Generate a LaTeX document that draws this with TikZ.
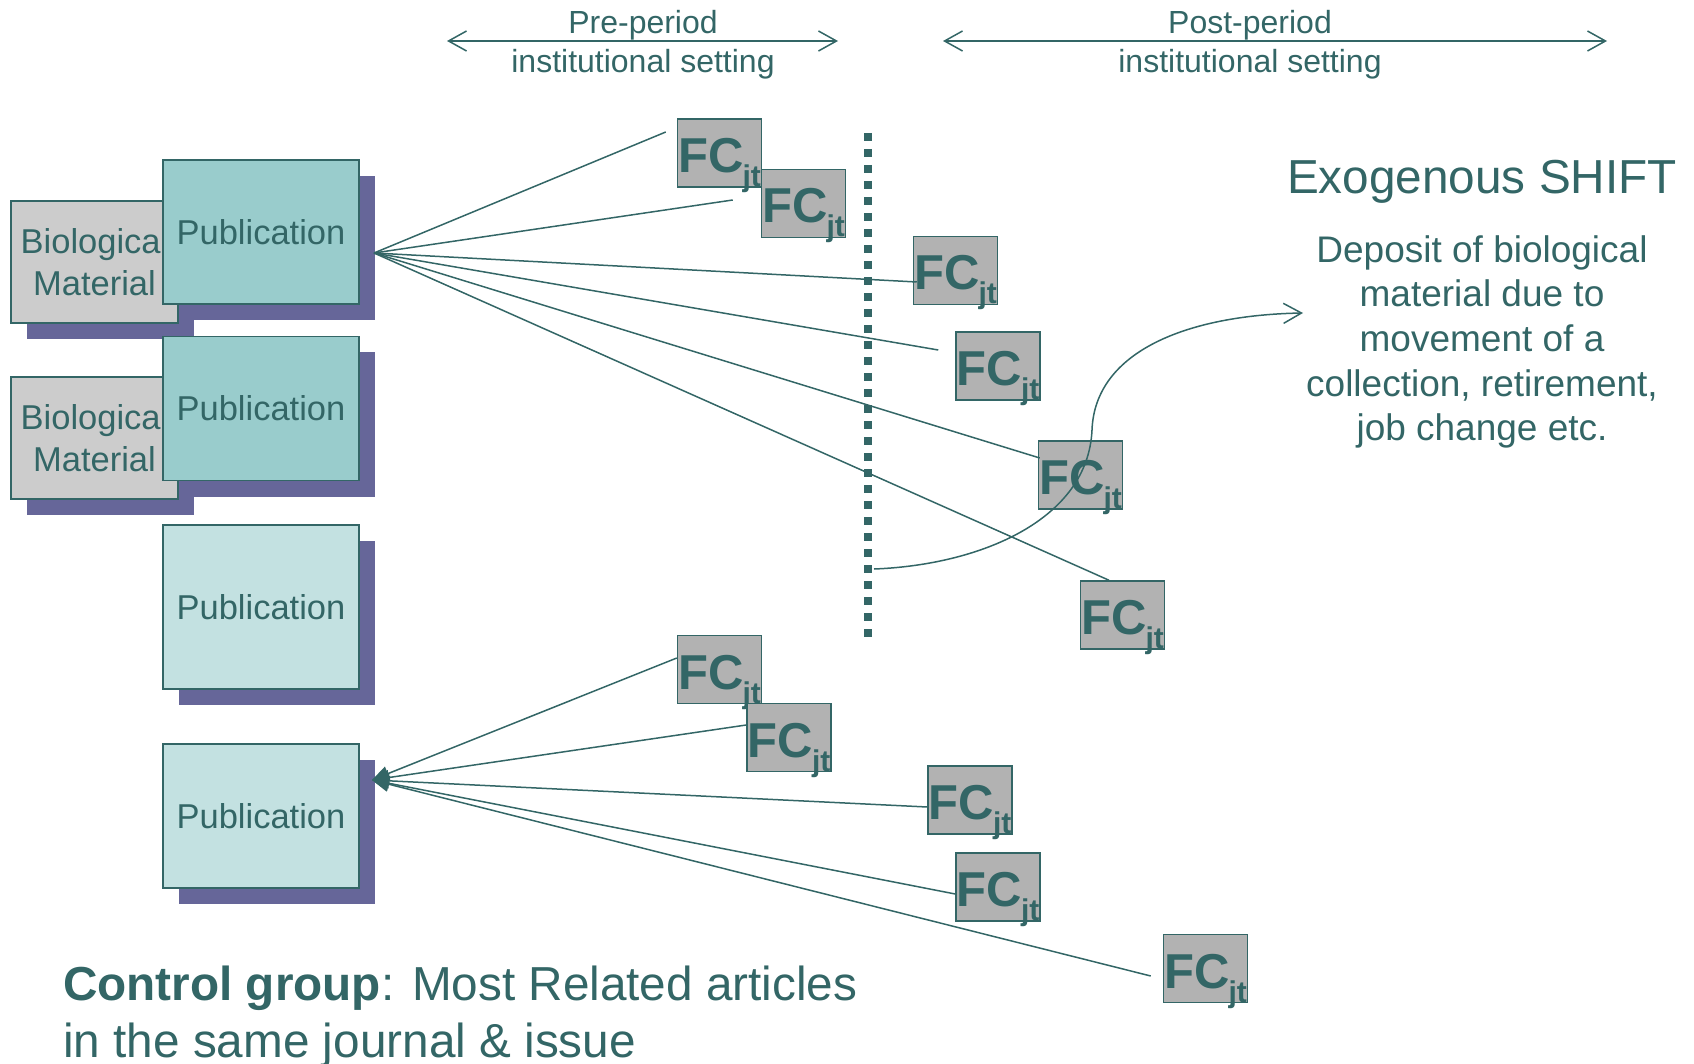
\documentclass[tikz,border=0pt]{standalone}
\usepackage{fontspec}
\setmainfont{Liberation Sans}
\usetikzlibrary{arrows.meta,calc,shadows}
\definecolor{tealdk}{HTML}{336666}
\definecolor{pubdark}{HTML}{99CCCC}
\definecolor{publight}{HTML}{C3E1E1}
\definecolor{biogray}{HTML}{CCCCCC}
\definecolor{fcgray}{HTML}{B2B2B2}
\definecolor{shadowc}{HTML}{666699}
\begin{document}
\begin{tikzpicture}[x=1pt,y=-1pt,
  boxshadow/.style={drop shadow={shadow xshift=16pt,shadow yshift=-16pt,fill=shadowc,opacity=1}},
  basebox/.style={draw=tealdk,line width=1.5pt,inner sep=0pt,text=tealdk,boxshadow,
    font=\fontsize{34.5}{42}\selectfont,align=center},
  biobox/.style={basebox,fill=biogray,minimum width=167pt,minimum height=122pt},
  pubbox/.style={basebox,fill=pubdark,minimum width=196pt,minimum height=144pt},
  publbox/.style={basebox,fill=publight,minimum width=196pt},
  fcbox/.style={draw=tealdk,line width=1.5pt,fill=fcgray,minimum width=84pt,minimum height=68pt,
    inner sep=0pt,text height=39pt,text depth=0pt,text=tealdk,font=\fontsize{49}{49}\selectfont\bfseries},
  conn/.style={draw=tealdk,line width=1.5pt},
  txt/.style={text=tealdk,inner sep=0pt,align=center},
  barb/.tip={Straight Barb[length=18pt,width=20pt,line width=1.5pt]},
  tri/.tip={Triangle[length=17pt,width=15pt]}
]
\newcommand{\fcjt}{FC\hspace{-1pt}\raisebox{-14pt}{\fontsize{30}{30}\selectfont jt}}
\useasboundingbox (0,0) rectangle (1694,1064);

% header arrows and labels
\coordinate (pa1) at (447,41);
\coordinate (pa2) at (838,41);
\coordinate (qa1) at (943,41);
\coordinate (qa2) at (1607,41);
\draw[conn,barb-barb] (pa1) -- (pa2);
\draw[conn,barb-barb] (qa1) -- (qa2);
\node[txt,font=\fontsize{32}{39}\selectfont] (prelab) at (643,45) {Pre-period\\institutional setting};
\node[txt,font=\fontsize{32}{39}\selectfont] (postlab) at (1250,45) {Post-period\\institutional setting};

% left boxes
\node[biobox] (bio1) at (94.5,262) {Biological\\Material};
\node[pubbox] (pub1) at (261,232) {Publication};
\node[biobox] (bio2) at (94.5,438) {Biological\\Material};
\node[pubbox] (pub2) at (261,408.5) {Publication};
\node[publbox,minimum height=164pt] (pub3) at (261,607) {Publication};
\node[publbox,minimum height=144pt] (pub4) at (261,816) {Publication};

% dotted divider
\coordinate (d1) at (868,133);
\coordinate (d2) at (868,637);
\draw[tealdk,line width=7.5pt,dash pattern=on 8pt off 8pt] (d1) -- (d2);

% FC nodes
\node[fcbox] (f1) at (719.5,153) {\fcjt};
\node[fcbox] (f2) at (803.5,203.5) {\fcjt};
\node[fcbox] (f3) at (955.5,270.5) {\fcjt};
\node[fcbox] (f4) at (998,366) {\fcjt};
\node[fcbox] (f5) at (1080.5,475) {\fcjt};
\node[fcbox] (f6) at (1122.5,615) {\fcjt};
\node[fcbox] (f7) at (719.5,669.5) {\fcjt};
\node[fcbox] (f8) at (789,737.5) {\fcjt};
\node[fcbox] (f9) at (970,800) {\fcjt};
\node[fcbox] (f10) at (998,887) {\fcjt};
\node[fcbox] (f11) at (1205.5,968.5) {\fcjt};

% top fan
\coordinate (o1) at (374,253);
\draw[conn] (o1) -- ($(f1.west)+(-11,-21)$);
\draw[conn] (o1) -- ($(f2.west)+(-28,-3.5)$);
\draw[conn] (o1) -- ($(f3.west)+(4,11.5)$);
\draw[conn] (o1) -- ($(f4.west)+(-17,-16)$);
\draw[conn] (o1) -- ($(f5.west)+(2,-17)$);
\draw[conn] (o1) -- ($(f6.north)+(-13.5,0)$);

% bottom fan
\coordinate (o2) at (372,780);
\draw[conn,-tri] ($(f7.west)+(0,-11.5)$) -- (o2);
\draw[conn,-tri] ($(f8.west)+(0,-12.5)$) -- (o2);
\draw[conn,-tri] ($(f9.west)+(0,7)$) -- (o2);
\draw[conn,-tri] ($(f10.west)+(0,7)$) -- (o2);
\draw[conn,-tri] ($(f11.west)+(-12,7.5)$) -- (o2);

% exogenous shift
\node[txt,font=\fontsize{47.7}{50}\selectfont,anchor=base] (exo) at (1482,194) {Exogenous SHIFT};
\node[txt,font=\fontsize{37}{44.6}\selectfont] (dep) at (1482,342) {Deposit of biological\\material due to\\movement of a\\collection, retirement,\\job change etc.};
\coordinate (cs) at (874,569);
\coordinate (ce) at (1303,313);
\draw[conn,-barb] (cs) .. controls (980,565) and (1088,520) .. (1092,430)
  .. controls (1095,350) and (1190,315) .. (ce);

% control group
\node[txt,font=\fontsize{47.7}{58}\selectfont,anchor=base west] (cg1) at (63,1000) {\textbf{Control group}: Most Related articles};
\node[txt,font=\fontsize{47.7}{58}\selectfont,anchor=base west] (cg2) at (63,1057) {in the same journal \& issue};
\end{tikzpicture}
\end{document}
